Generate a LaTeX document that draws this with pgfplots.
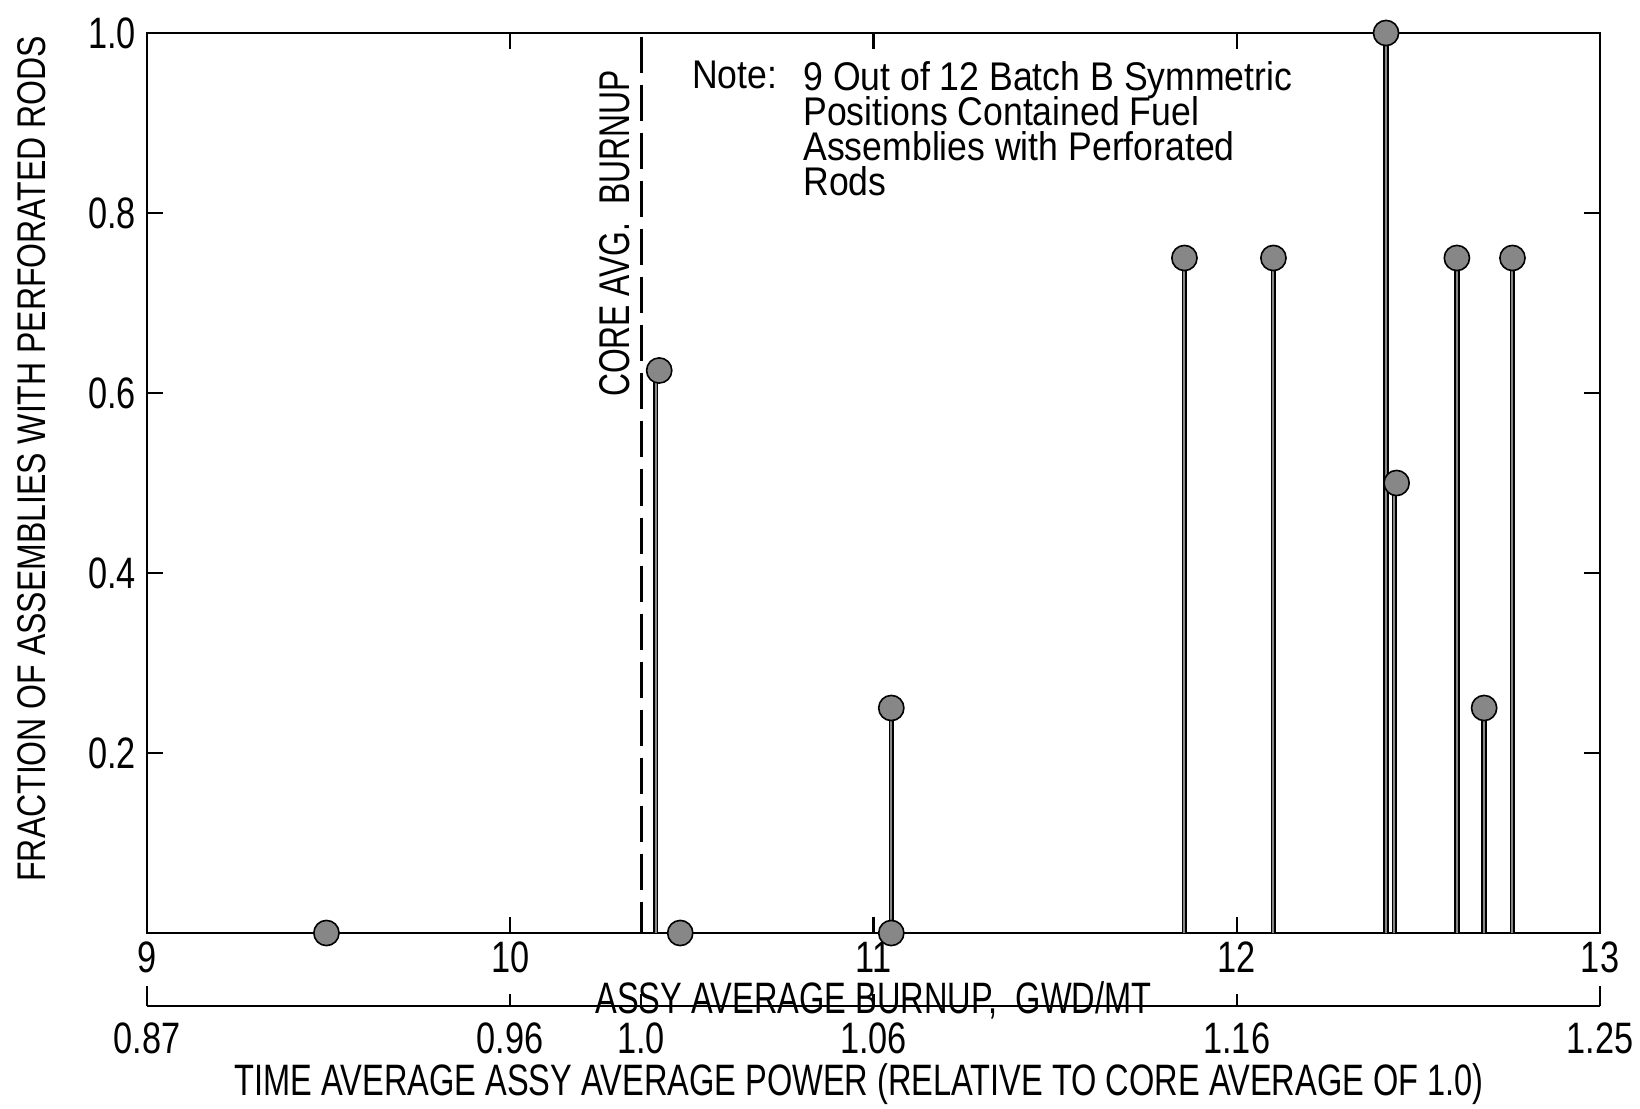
\documentclass[border=0pt]{standalone}
\usepackage{fontspec}
\setmainfont{Liberation Sans}[FakeStretch=0.78]
\newfontfamily\notefont{Liberation Sans}[FakeStretch=0.89]
\newfontfamily\lblfont{Liberation Sans}[FakeStretch=0.74]
\newfontfamily\ylblfont{Liberation Sans}[FakeStretch=0.80]
\newcommand\noteskip{\lineskiplimit=-100pt\relax}
\usepackage{pgfplots}
\pgfplotsset{compat=1.18}
\definecolor{dotgray}{RGB}{135,135,135}
\begin{document}
\begin{tikzpicture}
\begin{axis}[name=main,
  width=726.5pt, height=450pt, scale only axis,
  xmin=9, xmax=13, ymin=0, ymax=1,
  xtick={9,10,11,12,13}, xticklabels={9,10,11,12,13},
  ytick={0.2,0.4,0.6,0.8,1.0}, yticklabels={0.2,0.4,0.6,0.8,1.0},
  tick align=inside, major tick length=8pt,
  tick style={black, line width=1.2pt},
  axis line style={line width=1.3pt},
  ticklabel style={font=\fontsize{22}{24}\selectfont},
  xticklabel style={yshift=-1pt},
  yticklabel style={xshift=-2pt},
  clip=false,
  xlabel={ASSY AVERAGE BURNUP,\ \ GWD/MT},
  x label style={at={(axis description cs:0.5,0)}, anchor=center, yshift=-33.5pt, font=\lblfont\fontsize{22}{24}\selectfont},
  ylabel={FRACTION OF ASSEMBLIES WITH PERFORATED RODS},
  y label style={at={(axis description cs:-0.0796,0.527)}, anchor=center, font=\ylblfont\fontsize{20}{22}\selectfont},
]
% core average burnup line
\addplot[black, line width=1.5pt, dash pattern=on 18pt off 6pt] coordinates {(10.36,0.995) (10.36,0)};
% stems
\addplot[ycomb, black, line width=2.8pt, mark=none] table {
x y
10.40 0.625
11.049 0.25
11.856 0.75
12.101 0.75
12.411 1.0
12.434 0.5
12.606 0.75
12.681 0.25
12.759 0.75
};
\addplot[ycomb, dotgray, line width=1pt, mark=none] table {
x y
10.40 0.625
11.049 0.25
11.856 0.75
12.101 0.75
12.411 1.0
12.434 0.5
12.606 0.75
12.681 0.25
12.759 0.75
};
% dots
\addplot[only marks, mark=*, mark size=6.3pt, mark options={fill=dotgray, draw=black, line width=0.8pt}] table {
x y
9.494 0
10.41 0.625
10.468 0
11.049 0.25
11.049 0
11.856 0.75
12.101 0.75
12.411 1.0
12.440 0.5
12.606 0.75
12.681 0.25
12.759 0.75
};
\node[anchor=north west, inner sep=0pt, font=\notefont\fontsize{20}{17.5}\selectfont] at (axis cs:10.50,0.969) {Note:};
\node[anchor=north west, inner sep=0pt, align=left, font={\notefont\fontsize{20}{17.5}\selectfont\noteskip}] at (axis cs:10.806,0.969) {9 Out of 12 Batch B Symmetric\\Positions Contained Fuel\\Assemblies with Perforated\\Rods};
\node[rotate=90, inner sep=0pt, font=\lblfont\fontsize{21.5}{24}\selectfont] at (axis cs:10.288,0.777) {CORE AVG.\ \ BURNUP};
\end{axis}
\begin{axis}[
  at={(main.south west)}, anchor=south west, yshift=-36.5pt,
  width=726.5pt, height=20pt, scale only axis,
  xmin=9, xmax=13, ymin=0, ymax=1,
  axis x line=bottom, axis y line=none,
  axis line style={line width=1.3pt, -},
  xtick={10,10.36,11,12}, xticklabels={0.96,1.0,1.06,1.16},
  extra x ticks={9,13}, extra x tick labels={0.87,1.25},
  extra x tick style={major tick length=10pt},
  xtick align=inside, major tick length=6pt,
  tick style={black, line width=1.2pt},
  ticklabel style={font=\fontsize{22}{24}\selectfont},
  xticklabel style={yshift=-5pt},
  xlabel={TIME AVERAGE ASSY AVERAGE POWER (RELATIVE TO CORE AVERAGE OF 1.0)},
  x label style={at={(axis description cs:0.49,0)}, anchor=center, yshift=-39pt, font=\lblfont\fontsize{22}{24}\selectfont},
]
\addplot[draw=none] coordinates {(9,0) (13,0)};
\end{axis}
\pgfresetboundingbox
\path[use as bounding box] ([xshift=-73.5pt,yshift=-87.5pt]main.south west) rectangle ([xshift=20pt,yshift=16.5pt]main.north east);
\end{tikzpicture}
\end{document}
